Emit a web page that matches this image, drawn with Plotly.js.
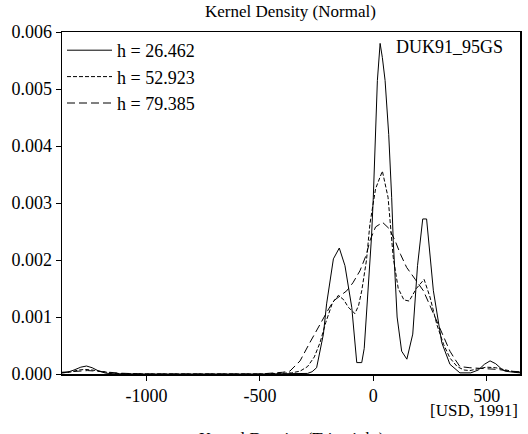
<!DOCTYPE html>
<html>
<head>
<meta charset="utf-8">
<script src="https://cdn.plot.ly/plotly-3.0.1.min.js"></script>
<style>
html,body{margin:0;padding:0;background:#fff;}
#chart{width:528px;height:434px;}
</style>
</head>
<body>
<div id="chart"></div>
<script>
// Series names
var seriesNames = ["h = 26.462", "h = 52.923", "h = 79.385"];

// h = 26.462 (solid) — x in USD, y density (x 1e-3)
var x1 = [-1375,-1350,-1320,-1290,-1265,-1240,-1210,-1180,-1150,-1100,-1000,-500,-330,-290,-270,-250,-220,-206,-176,-150,-125,-95,-73,-51,-40,-25,-8,0,18,30,40,52,68,81,88,105,125,148,174,195,218,235,265,302,338,382,430,463,490,515,540,565,581,620,647];
var y1 = [0.02,0.03,0.07,0.12,0.14,0.11,0.05,0.015,0.005,0.002,0,0,0,0.01,0.04,0.11,0.70,1.23,2.02,2.21,1.90,1.17,0.20,0.20,0.45,1.30,2.40,3.10,5.15,5.80,5.55,5.15,4.20,3.10,2.34,1.00,0.40,0.26,0.70,1.90,2.72,2.72,1.46,0.55,0.17,0.02,0.02,0.07,0.17,0.23,0.18,0.09,0.05,0.03,0.02];

// h = 52.923 (short dash)
var x2 = [-1375,-1340,-1300,-1270,-1240,-1200,-1150,-1100,-1000,-500,-400,-360,-323,-290,-260,-235,-210,-180,-154,-130,-110,-81,-65,-51,-30,-15,10,40,65,88,110,135,158,190,224,250,280,310,338,370,400,426,460,500,540,580,620,647];
var y2 = [0.02,0.03,0.07,0.08,0.07,0.04,0.015,0.005,0,0,0.005,0.02,0.05,0.13,0.30,0.55,0.90,1.25,1.38,1.30,1.17,1.06,1.20,1.46,2.00,2.63,3.25,3.56,3.10,2.04,1.50,1.30,1.28,1.50,1.66,1.35,0.87,0.52,0.28,0.13,0.07,0.06,0.09,0.12,0.11,0.07,0.04,0.03];

// h = 79.385 (long dash)
var x3 = [-1375,-1330,-1290,-1260,-1220,-1170,-1120,-1050,-1000,-500,-450,-400,-368,-323,-280,-235,-200,-176,-140,-117,-90,-59,-30,-15,10,41,70,96,120,147,185,221,250,280,310,338,360,382,426,470,510,550,600,647];
var y3 = [0.03,0.04,0.06,0.06,0.05,0.03,0.015,0.005,0,0,0.01,0.03,0.05,0.23,0.55,0.88,1.12,1.28,1.40,1.46,1.60,1.81,2.10,2.34,2.58,2.66,2.55,2.34,2.10,1.87,1.66,1.46,1.20,0.93,0.65,0.40,0.26,0.13,0.11,0.10,0.10,0.08,0.05,0.04];

var xTicks = [-1000, -500, 0, 500];
var yTicks = [0, 0.001, 0.002, 0.003, 0.004, 0.005, 0.006];

function scale(a){ return a.map(function(v){ return v/1000; }); }

var font = "Liberation Serif";
var traces = [
  {x:x1, y:scale(y1), name:seriesNames[0], mode:"lines", line:{color:"#000", width:1, dash:"solid"}},
  {x:x2, y:scale(y2), name:seriesNames[1], mode:"lines", line:{color:"#000", width:1, dash:"4px,2px"}},
  {x:x3, y:scale(y3), name:seriesNames[2], mode:"lines", line:{color:"#000", width:1, dash:"8px,4px"}}
];

var layout = {
  width:528, height:434,
  margin:{l:62, r:8, t:32, b:60},
  paper_bgcolor:"#fff", plot_bgcolor:"#fff",
  font:{family:font, color:"#000", size:18},
  title:{text:"Kernel Density (Normal)", font:{size:17, family:font, color:"#000"}, x:0.55, xanchor:"center", y:0.975, yanchor:"middle"},
  showlegend:true,
  legend:{x:0, y:1, xanchor:"left", yanchor:"top", bgcolor:"rgba(0,0,0,0)", borderwidth:0, font:{size:18, family:font}, tracegroupgap:0, itemwidth:45},
  xaxis:{range:[-1373,647], tickvals:xTicks, ticktext:xTicks.map(String), ticks:"outside", ticklen:5, tickwidth:1, tickcolor:"#000",
         showline:true, linecolor:"#000", linewidth:1.5, mirror:true, showgrid:false, zeroline:false, tickfont:{size:18, family:font}},
  yaxis:{range:[0,0.006], tickvals:yTicks, ticktext:yTicks.map(function(v){return v.toFixed(3);}), ticks:"outside", ticklen:5, tickwidth:1, tickcolor:"#000",
         showline:true, linecolor:"#000", linewidth:1.5, mirror:true, showgrid:false, zeroline:false, tickfont:{size:18, family:font}},
  annotations:[
    {text:"DUK91_95GS", xref:"paper", yref:"paper", x:0.967, y:0.956, xanchor:"right", yanchor:"middle", showarrow:false, font:{size:18, family:font}},
    {text:"[USD, 1991]", xref:"paper", yref:"paper", x:1.0, y:-0.108, xanchor:"right", yanchor:"middle", showarrow:false, font:{size:17, family:font}},
    {text:"Kernel Density (Triweight)", xref:"paper", yref:"paper", x:0.5, y:-0.19, xanchor:"center", yanchor:"middle", showarrow:false, font:{size:17, family:font}}
  ]
};

Plotly.newPlot("chart", traces, layout, {displayModeBar:false, staticPlot:true}).then(function(gd){
  var nodes = gd.querySelectorAll("text");
  for (var i = 0; i < nodes.length; i++) {
    nodes[i].style.setProperty("font-family", "'Liberation Serif', 'Times New Roman', serif", "important");
  }
});
</script>
</body>
</html>
